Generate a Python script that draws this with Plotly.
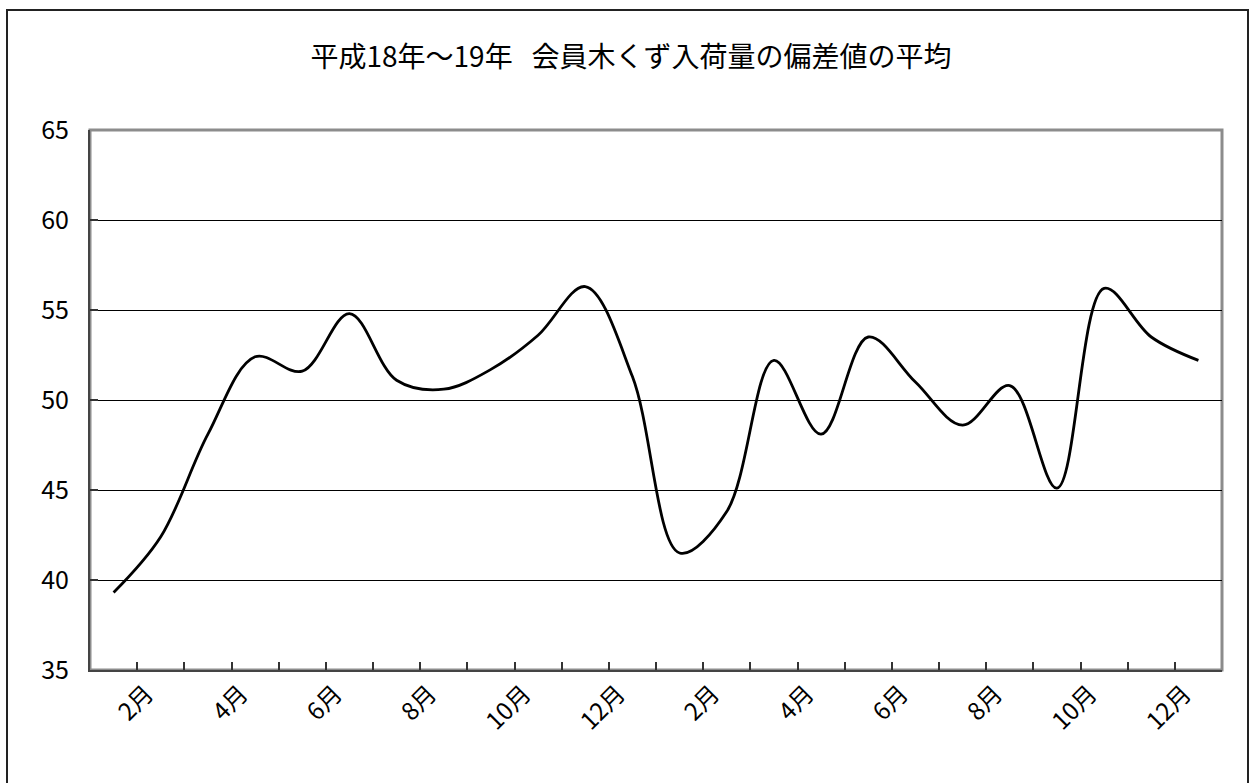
import plotly.graph_objects as go

# Monthly average deviation scores, Heisei 18 (Jan) through Heisei 19 (Dec)
months = [f"{m}月" for m in range(1, 13)] * 2
deviation = [39.3, 42.4, 48.1, 52.4, 51.6, 54.8, 51.1, 50.6, 51.7, 53.6, 56.3, 51.3,
             41.5, 43.8, 52.2, 48.1, 53.5, 51.0, 48.6, 50.8, 45.1, 56.2, 53.5, 52.2]
title_text = "平成18年～19年\u00a0\u00a0\u00a0会員木くず入荷量の偏差値の平均"

W, H = 1253, 783
L, R, T, B = 90, 1222, 130, 670  # plot area in pixels
pw, ph = R - L, B - T

x_idx = list(range(1, len(deviation) + 1))
label_pos = [i - 0.3 for i in x_idx if i % 2 == 0]
label_txt = [months[i - 1] for i in x_idx if i % 2 == 0]
boundaries = [i + 0.5 for i in range(0, len(deviation) + 1)]

font = "Noto Sans CJK JP, Liberation Sans, sans-serif"

fig = go.Figure()
fig.add_trace(go.Scatter(
    x=x_idx, y=deviation, mode="lines",
    line=dict(color="black", width=2.8, shape="spline", smoothing=1.0),
    hoverinfo="skip", showlegend=False,
))
# invisible trace bound to the labelling axis
fig.add_trace(go.Scatter(x=[x_idx[0]], y=[deviation[0]], xaxis="x2", mode="markers",
                         marker=dict(opacity=0), showlegend=False, hoverinfo="skip"))

xr = [0.5, len(deviation) + 0.5]
fig.update_layout(
    width=W, height=H,
    margin=dict(l=L, r=W - R, t=T, b=H - B, pad=0),
    paper_bgcolor="white", plot_bgcolor="white",
    font=dict(family=font, color="black"),
    title=dict(text=title_text, x=631 / W, xref="container", xanchor="center",
               y=1 - 57 / H, yref="container", yanchor="middle",
               font=dict(size=28, family=font, color="black")),
    xaxis=dict(range=xr, tickvals=boundaries, ticktext=[""] * len(boundaries),
               ticks="inside", ticklen=8, tickwidth=1.5, tickcolor="#333",
               showgrid=False, zeroline=False,
               showline=True, linecolor="#444", linewidth=2),
    xaxis2=dict(range=xr, overlaying="x", anchor="y", side="bottom",
                tickvals=label_pos, ticktext=label_txt, tickangle=-45,
                ticks="", showgrid=False, zeroline=False, showline=False,
                ticklabelstandoff=4,
                tickfont=dict(size=24, family=font, color="black")),
    yaxis=dict(range=[35, 65], dtick=5, tick0=35,
               ticks="inside", ticklen=8, tickwidth=1.5, tickcolor="#333",
               showgrid=True, gridcolor="black", gridwidth=1,
               zeroline=False, showline=True, linecolor="#444", linewidth=2,
               ticklabelstandoff=14,
               tickfont=dict(size=25, family=font, color="black")),
    shapes=[
        # grey plot-area frame
        dict(type="rect", xref="paper", yref="paper", x0=0, x1=1, y0=0, y1=1,
             line=dict(color="#8c8c8c", width=3), layer="below"),
        # chart-area border
        dict(type="rect", xref="paper", yref="paper",
             x0=(7 - L) / pw, x1=(1248 - L) / pw,
             y0=(B - 800) / ph, y1=(B - 10) / ph,
             line=dict(color="#222", width=2), layer="below"),
    ],
)

fig.write_html("out.html")
